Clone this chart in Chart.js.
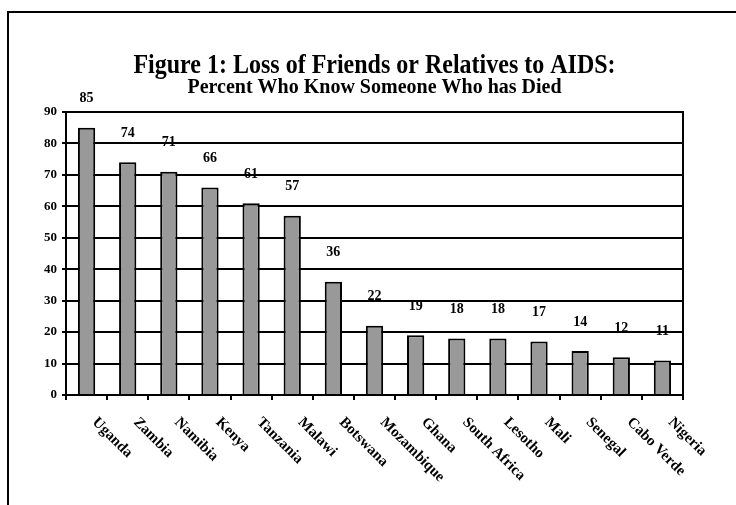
<!DOCTYPE html>
<html>
<head>
<meta charset="utf-8">
<script src="https://cdn.jsdelivr.net/npm/chart.js@4.4.0/dist/chart.umd.min.js"></script>
<style>
  html, body { margin: 0; padding: 0; background: #ffffff; }
  #wrap { width: 736px; height: 505px; }
</style>
</head>
<body>
<div id="wrap"><canvas id="chart" width="736" height="505"></canvas></div>
<script>
// Survey results: share of respondents who know someone who died of AIDS
const countries = ['Uganda', 'Zambia', 'Namibia', 'Kenya', 'Tanzania', 'Malawi', 'Botswana',
  'Mozambique', 'Ghana', 'South Africa', 'Lesotho', 'Mali', 'Senegal', 'Cabo Verde', 'Nigeria'];
const percentKnown = [85, 74, 71, 66, 61, 57, 36, 22, 19, 18, 18, 17, 14, 12, 11];
const yTicks = [0, 10, 20, 30, 40, 50, 60, 70, 80, 90];

const titleText = 'Figure 1: Loss of Friends or Relatives to AIDS:';
const subtitleText = 'Percent Who Know Someone Who has Died';

const SERIF = "'Liberation Serif', 'Times New Roman', serif";

// White page with the outer frame line on the left and top
const pagePlugin = {
  id: 'page',
  beforeDraw(chart) {
    const ctx = chart.ctx;
    ctx.save();
    ctx.fillStyle = '#ffffff';
    ctx.fillRect(0, 0, chart.width, chart.height);
    ctx.strokeStyle = '#000000';
    ctx.lineWidth = 2;
    ctx.strokeRect(8, 12, chart.width + 20, chart.height + 20);
    ctx.restore();
  }
};

// Heading lines centred over the plot, set slightly tall
const headingPlugin = {
  id: 'heading',
  afterDraw(chart) {
    const ctx = chart.ctx;
    const area = chart.chartArea;
    const cx = (area.left + area.right) / 2;
    const drawTall = (text, size, baseline) => {
      ctx.save();
      ctx.translate(cx, baseline);
      ctx.scale(1, 1.1);
      ctx.font = 'bold ' + size + 'px ' + SERIF;
      ctx.fillText(text, 0, 0);
      ctx.restore();
    };
    ctx.save();
    ctx.fillStyle = '#000000';
    ctx.textAlign = 'center';
    ctx.textBaseline = 'alphabetic';
    drawTall(titleText, 24, 73);
    drawTall(subtitleText, 20, 93);
    ctx.restore();
  }
};

// Top and right-hand frame of the plot area
const plotFramePlugin = {
  id: 'plotFrame',
  afterDatasetsDraw(chart) {
    const ctx = chart.ctx;
    const a = chart.chartArea;
    ctx.save();
    ctx.strokeStyle = '#000000';
    ctx.lineWidth = 2;
    ctx.beginPath();
    ctx.moveTo(a.left, a.top);
    ctx.lineTo(a.right, a.top);
    ctx.lineTo(a.right, a.bottom);
    ctx.stroke();
    ctx.restore();
  }
};

// Value labels floating above each bar
const valueLabelPlugin = {
  id: 'valueLabels',
  afterDatasetsDraw(chart) {
    const ctx = chart.ctx;
    const meta = chart.getDatasetMeta(0);
    const data = chart.data.datasets[0].data;
    ctx.save();
    ctx.fillStyle = '#000000';
    ctx.font = 'bold 14px ' + SERIF;
    ctx.textAlign = 'center';
    ctx.textBaseline = 'middle';
    meta.data.forEach((bar, i) => {
      ctx.fillText(String(data[i]), bar.x, bar.y - 29);
    });
    ctx.restore();
  }
};

// Category names slanting down to the right beneath the axis
const slantLabelPlugin = {
  id: 'slantLabels',
  afterDraw(chart) {
    const ctx = chart.ctx;
    const xs = chart.scales.x;
    ctx.save();
    ctx.fillStyle = '#000000';
    ctx.font = 'bold 15px ' + SERIF;
    ctx.textAlign = 'left';
    ctx.textBaseline = 'middle';
    chart.data.labels.forEach((label, i) => {
      const x = xs.getPixelForValue(i);
      ctx.save();
      ctx.translate(x + 8, xs.top + 25);
      ctx.rotate(Math.PI / 4);
      ctx.fillText(label, 0, 0);
      ctx.restore();
    });
    ctx.restore();
  }
};

new Chart(document.getElementById('chart'), {
  type: 'bar',
  data: {
    labels: countries,
    datasets: [{
      data: percentKnown,
      backgroundColor: '#999999',
      borderColor: '#000000',
      borderWidth: 2,
      barPercentage: 0.42,
      categoryPercentage: 1.0
    }]
  },
  options: {
    responsive: false,
    animation: false,
    devicePixelRatio: 1,
    layout: { padding: { left: 0, top: 112, right: 53, bottom: 110 } },
    plugins: {
      legend: { display: false },
      title: { display: false },
      tooltip: { enabled: false }
    },
    scales: {
      x: {
        offset: true,
        grid: {
          offset: true,
          drawOnChartArea: false,
          drawTicks: true,
          tickLength: 5,
          color: '#000000',
          lineWidth: 2
        },
        border: { display: true, color: '#000000', width: 2 },
        ticks: { display: false },
        afterFit(scale) { scale.height = 0; }
      },
      y: {
        min: 0,
        max: 90,
        afterBuildTicks(scale) { scale.ticks = yTicks.map(v => ({ value: v })); },
        grid: {
          color: '#000000',
          lineWidth: 2,
          drawTicks: true,
          tickLength: 4
        },
        border: { display: true, color: '#000000', width: 2 },
        ticks: {
          color: '#000000',
          font: { family: SERIF, size: 13, weight: 'bold' },
          padding: 5
        },
        afterFit(scale) { scale.width = 66; }
      }
    }
  },
  plugins: [pagePlugin, plotFramePlugin, valueLabelPlugin, slantLabelPlugin, headingPlugin]
});
</script>
</body>
</html>
